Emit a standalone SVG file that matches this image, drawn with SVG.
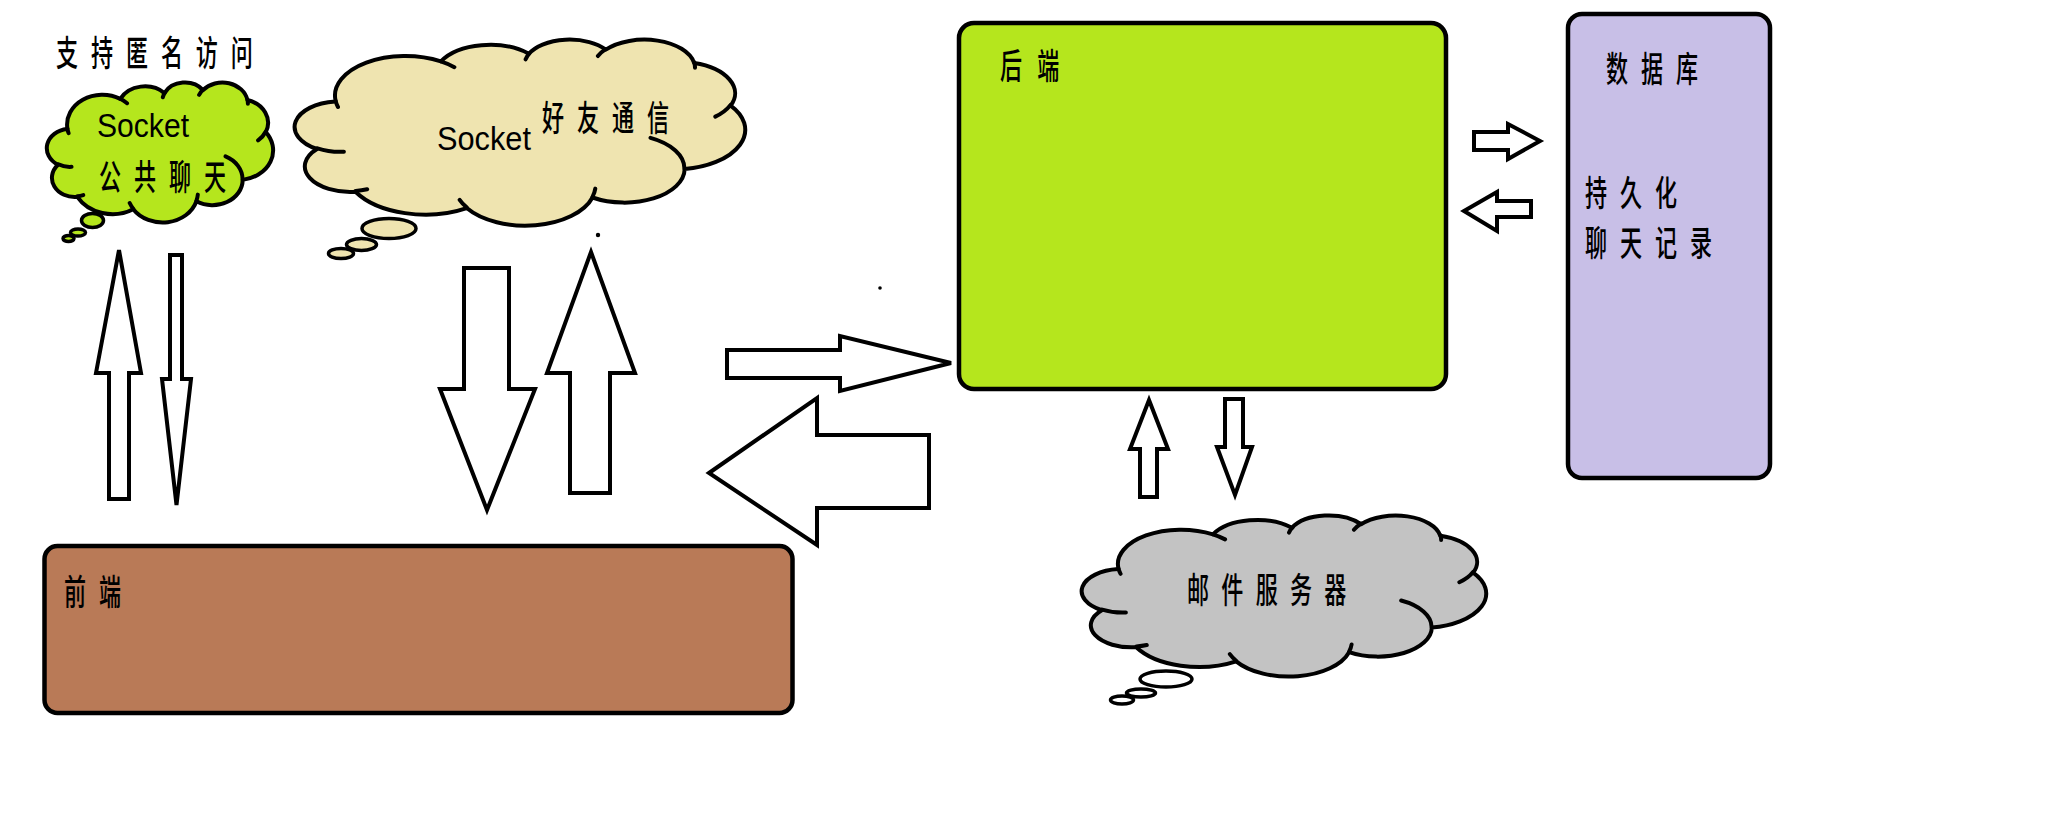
<svg xmlns="http://www.w3.org/2000/svg" xmlns:xlink="http://www.w3.org/1999/xlink" width="2070" height="830" viewBox="0 0 2070 830">
<style>
.box{stroke:#000;stroke-width:4.5}
.cloud{stroke:#000;stroke-width:4;stroke-linejoin:round}
.acc{fill:none;stroke:#000;stroke-width:4;stroke-linecap:round}
.bub{stroke:#000;stroke-width:3.5}
.arr{fill:#fff;stroke:#000;stroke-width:4;stroke-linejoin:miter}
.cjk{font-family:"Noto Sans CJK SC","Noto Sans CJK TC",sans-serif;font-size:35px;font-weight:500;letter-spacing:20.5px;fill:#000}
.lat{font-family:"Liberation Sans",Arial,sans-serif;font-size:33px;fill:#000}
</style>
<defs>
<path id="cloudShape" vector-effect="non-scaling-stroke" d="M90.3,332.6 A156.3,212.7 0 0 1 324.2,120.4 A123.4,168.2 0 0 1 519.8,79.5 A101,137.6 0 0 1 690.6,57.4 A112.4,152.7 0 0 1 887,129.1 A123.4,168.4 0 0 1 968.1,357.9 A156.8,213.4 0 0 1 865.9,699.1 A133.9,182.1 0 0 1 661.1,852.1 A156.3,213.3 0 0 1 381.6,909 A178.7,244.1 0 0 1 134.4,821.1 A100.9,137 0 0 1 49,591.5 A100.6,137.6 0 0 1 89.5,335.8 Z"/>
<path id="cloudAccents" vector-effect="non-scaling-stroke" d="M108.6,605.9 A100.6,137.6 0 0 1 50,587.5 M160.4,807.9 A100.9,137 0 0 1 134.7,816.7 M381.4,904.9 A156.3,213.3 0 0 1 365.9,864.5 M667.3,804.4 A156.3,213.3 0 0 1 661.1,848.6 M790,531.3 A133.9,182.1 0 0 1 865.3,696.5 M967.5,355.4 A123.4,168.4 0 0 1 934,417.4 M887.1,125.6 A112.4,152.7 0 0 1 888.9,154.9 M673.1,91.5 A112.4,152.7 0 0 1 690.3,54.2 M512.5,109.3 A101,137.6 0 0 1 520.8,77.1 M324.1,120.2 A156.3,212.7 0 0 1 354.2,151.4 M95.5,365.5 A156.3,212.7 0 0 1 90.3,332.6"/>
</defs>
<rect width="2070" height="830" fill="#fff"/>

<g id="anonymous-label">
<text class="cjk" transform="matrix(0.63 0 0 1 56 66)">支持匿名访问</text>
</g>

<g id="public-chat">
<use xlink:href="#cloudShape" class="cloud" fill="#B5E61D" transform="translate(47 82) scale(0.226 0.14)"/>
<use xlink:href="#cloudAccents" class="acc" transform="translate(47 82) scale(0.226 0.14)"/>
<ellipse class="bub" fill="#B5E61D" cx="92.5" cy="220.5" rx="11" ry="7"/>
<ellipse class="bub" fill="#B5E61D" cx="78" cy="232.5" rx="7.5" ry="3.5"/>
<ellipse class="bub" fill="#B5E61D" cx="68.5" cy="238.5" rx="5.5" ry="3"/>
<text class="lat" x="97" y="137" textLength="92" lengthAdjust="spacingAndGlyphs" style="font-size:34px">Socket</text>
<text class="cjk" transform="matrix(0.63 0 0 1 99 190)">公共聊天</text>
</g>

<g id="friend-chat">
<use xlink:href="#cloudShape" class="cloud" fill="#EFE4B0" transform="translate(295 39) scale(0.45 0.186)"/>
<use xlink:href="#cloudAccents" class="acc" transform="translate(295 39) scale(0.45 0.186)"/>
<ellipse class="bub" fill="#EFE4B0" cx="389" cy="228.5" rx="27" ry="10"/>
<ellipse class="bub" fill="#EFE4B0" cx="361.5" cy="244.5" rx="15" ry="6"/>
<ellipse class="bub" fill="#EFE4B0" cx="341" cy="253.5" rx="12.5" ry="5"/>
<text class="lat" x="437" y="150" textLength="94" lengthAdjust="spacingAndGlyphs">Socket</text>
<text class="cjk" transform="matrix(0.63 0 0 1 542 131)">好友通信</text>
</g>

<g id="frontend">
<rect class="box" fill="#B97A57" x="44.5" y="546" width="748" height="167" rx="13"/>
<text class="cjk" transform="matrix(0.63 0 0 1 64 605)">前端</text>
</g>

<g id="backend">
<rect class="box" fill="#B5E61D" x="959" y="23" width="487" height="366" rx="15"/>
<text class="cjk" transform="matrix(0.63 0 0 1 1000 79)" style="letter-spacing:24px">后端</text>
</g>

<g id="database">
<rect class="box" fill="#C8BFE7" x="1568" y="14" width="202" height="464" rx="14"/>
<text class="cjk" transform="matrix(0.63 0 0 1 1606 82)">数据库</text>
<text class="cjk" transform="matrix(0.63 0 0 1 1585 206)">持久化</text>
<text class="cjk" transform="matrix(0.63 0 0 1 1585 256)">聊天记录</text>
</g>

<g id="mail-server">
<use xlink:href="#cloudShape" class="cloud" fill="#C3C3C3" transform="translate(1082 515) scale(0.404 0.161)"/>
<use xlink:href="#cloudAccents" class="acc" transform="translate(1082 515) scale(0.404 0.161)"/>
<ellipse class="bub" fill="#fff" cx="1166" cy="679" rx="26" ry="8"/>
<ellipse class="bub" fill="#fff" cx="1141" cy="693" rx="14.5" ry="4"/>
<ellipse class="bub" fill="#fff" cx="1122" cy="700" rx="11.5" ry="4"/>
<text class="cjk" transform="matrix(0.63 0 0 1 1187 603)" style="letter-spacing:19.5px">邮件服务器</text>
</g>

<g id="connectors">
<polygon class="arr" points="119,250 141,373 129,373 129,499 109,499 109,373 96,373"/>
<polygon class="arr" points="170,255 182,255 182,379 191,379 176.5,505 162,379 170,379"/>
<polygon class="arr" points="464,268 509,268 509,389 535,389 487,510 440,389 464,389"/>
<polygon class="arr" points="591,252 635,373 610,373 610,493 570,493 570,373 547,373"/>
<polygon class="arr" points="727,350 840,350 840,336 951,363 840,391 840,378 727,378"/>
<polygon class="arr" points="709,473 817,398 817,435 929,435 929,508 817,508 817,545"/>
<polygon class="arr" points="1474,132 1508,132 1508,124 1540,141 1508,159 1508,150 1474,150"/>
<polygon class="arr" points="1464,211 1497,192 1497,201 1531,201 1531,217 1497,217 1497,231"/>
<polygon class="arr" points="1149,400 1168,449 1157,449 1157,497 1140,497 1140,449 1130,449"/>
<polygon class="arr" points="1225,399 1243,399 1243,447 1252,447 1235,495 1217,447 1225,447"/>
</g>

<g id="specks">
<circle cx="598" cy="235" r="2.2" fill="#000"/>
<circle cx="880" cy="288" r="1.8" fill="#000"/>
</g>
</svg>
